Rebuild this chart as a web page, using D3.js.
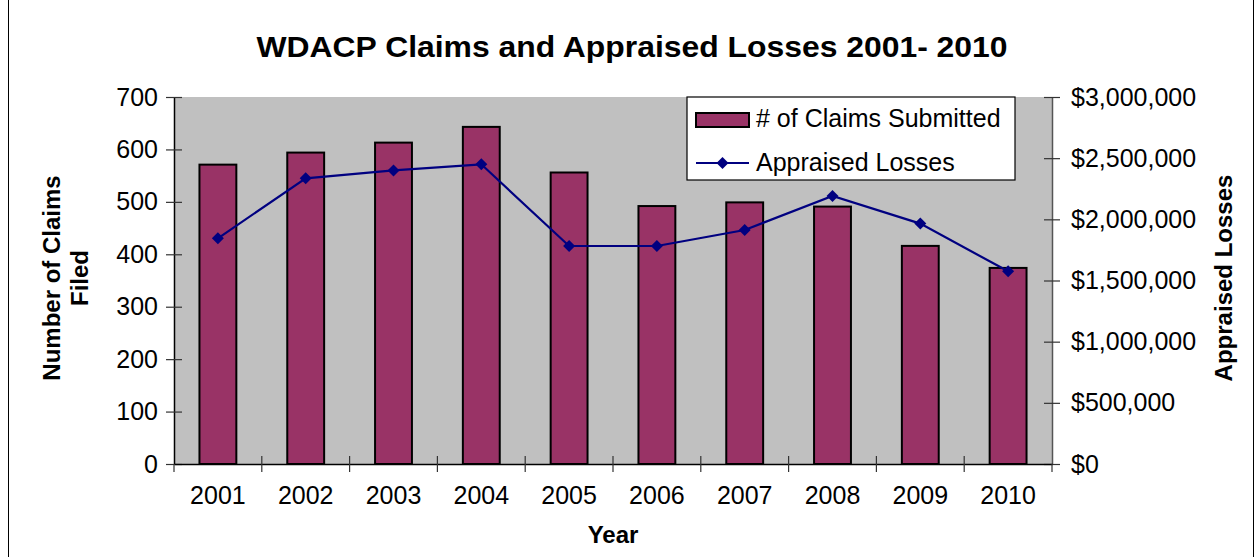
<!DOCTYPE html>
<html>
<head>
<meta charset="utf-8">
<script src="https://cdn.jsdelivr.net/npm/d3@7"></script>
<style>
  html, body { margin: 0; padding: 0; background: #ffffff; }
  svg { display: block; font-family: "Liberation Sans", Arial, sans-serif; }
</style>
</head>
<body>
<svg id="chart" width="1257" height="557"></svg>
<script>
const years = ["2001","2002","2003","2004","2005","2006","2007","2008","2009","2010"];
const claims = [571, 594, 613, 643, 556, 492, 499, 491, 416, 374];
const losses = [1845000, 2335000, 2400000, 2450000, 1782000, 1782000, 1913000, 2191000, 1965000, 1575000];
const leftTicks = [0, 100, 200, 300, 400, 500, 600, 700];
const rightTicks = [0, 500000, 1000000, 1500000, 2000000, 2500000, 3000000];

const svg = d3.select("#chart");
const W = 1257, H = 557;
const plot = { left: 174, right: 1052, top: 97, bottom: 464 };

// outer frame
svg.append("rect").attr("x", 8.5).attr("y", -2).attr("width", 1245).attr("height", H + 4)
  .attr("fill", "#fff").attr("stroke", "#000").attr("stroke-width", 1);

const x = d3.scaleBand().domain(years).range([plot.left, plot.right]).padding(0);
const yL = d3.scaleLinear().domain([0, 700]).range([plot.bottom, plot.top]);
const yR = d3.scaleLinear().domain([0, 3000000]).range([plot.bottom, plot.top]);

// plot background
svg.append("rect").attr("x", plot.left).attr("y", plot.top)
  .attr("width", plot.right - plot.left).attr("height", plot.bottom - plot.top)
  .attr("fill", "#C0C0C0");

// bars
const bw = x.bandwidth() * 0.42;
svg.append("g").selectAll("rect").data(years).join("rect")
  .attr("x", (d) => x(d) + x.bandwidth() / 2 - bw / 2)
  .attr("y", (d, i) => yL(claims[i]))
  .attr("width", bw)
  .attr("height", (d, i) => yL(0) - yL(claims[i]))
  .attr("fill", "#993366").attr("stroke", "#000").attr("stroke-width", 2);

// axes
const axisColor = "#000";
const fs = 25;
// left axis
const gL = svg.append("g").attr("transform", `translate(${plot.left},0)`)
  .call(d3.axisLeft(yL).tickValues(leftTicks).tickSize(0).tickPadding(16));
gL.select(".domain").attr("stroke", axisColor).attr("stroke-width", 1.5);
gL.selectAll(".tick text").attr("font-size", fs).attr("fill", "#000").attr("font-family", "Liberation Sans, Arial, sans-serif");
gL.selectAll(".tick").append("line").attr("x1", -8).attr("x2", 8).attr("stroke", "#333").attr("stroke-width", 1.2);

// right axis
const gR = svg.append("g").attr("transform", `translate(${plot.right},0)`)
  .call(d3.axisRight(yR).tickValues(rightTicks).tickSize(0).tickPadding(19)
    .tickFormat((v) => "$" + d3.format(",")(v)));
gR.select(".domain").attr("stroke", "#555").attr("stroke-width", 1.5);
gR.selectAll(".tick text").attr("font-size", fs).attr("fill", "#000").attr("font-family", "Liberation Sans, Arial, sans-serif");
gR.selectAll(".tick").append("line").attr("x1", -8).attr("x2", 8).attr("stroke", "#333").attr("stroke-width", 1.2);

// bottom axis
const gB = svg.append("g").attr("transform", `translate(0,${plot.bottom})`)
  .call(d3.axisBottom(x).tickSize(0).tickPadding(22));
gB.select(".domain").attr("stroke", axisColor).attr("stroke-width", 1.5);
gB.selectAll(".tick text").attr("font-size", fs).attr("fill", "#000").attr("font-family", "Liberation Sans, Arial, sans-serif");
const bounds = years.map((d) => x(d)).concat([plot.right]);
gB.append("g").selectAll("line").data(bounds).join("line")
  .attr("x1", (d) => d).attr("x2", (d) => d)
  .attr("y1", (d, i) => (i === 0 || i === bounds.length - 1) ? 0 : -8).attr("y2", 8)
  .attr("stroke", "#333").attr("stroke-width", 1.2);

// line series
const line = d3.line().x((d, i) => x(years[i]) + x.bandwidth() / 2).y((d) => yR(d));
svg.append("path").datum(losses).attr("d", line)
  .attr("fill", "none").attr("stroke", "#000080").attr("stroke-width", 2.2);
svg.append("g").selectAll("path").data(losses).join("path")
  .attr("transform", (d, i) => `translate(${x(years[i]) + x.bandwidth() / 2},${yR(d)}) rotate(45)`)
  .attr("d", d3.symbol().type(d3.symbolSquare).size(72))
  .attr("fill", "#000080");

// legend
const lg = svg.append("g");
lg.append("rect").attr("x", 687).attr("y", 97).attr("width", 328).attr("height", 83)
  .attr("fill", "#fff").attr("stroke", "#000").attr("stroke-width", 1.2);
lg.append("rect").attr("x", 696).attr("y", 113).attr("width", 53).attr("height", 14)
  .attr("fill", "#993366").attr("stroke", "#000").attr("stroke-width", 2);
lg.append("text").attr("x", 756).attr("y", 127).attr("font-size", fs).text("# of Claims Submitted");
lg.append("line").attr("x1", 696).attr("x2", 749).attr("y1", 163).attr("y2", 163)
  .attr("stroke", "#000080").attr("stroke-width", 2.2);
lg.append("path").attr("transform", "translate(722.5,163) rotate(45)")
  .attr("d", d3.symbol().type(d3.symbolSquare).size(72)).attr("fill", "#000080");
lg.append("text").attr("x", 756).attr("y", 171).attr("font-size", fs).text("Appraised Losses");

// title
svg.append("text").attr("x", 632).attr("y", 57).attr("text-anchor", "middle")
  .attr("font-size", 30).attr("font-weight", "bold")
  .attr("textLength", 751).attr("lengthAdjust", "spacingAndGlyphs")
  .text("WDACP Claims and Appraised Losses 2001- 2010");

// axis titles
svg.append("text").attr("x", 613).attr("y", 543).attr("text-anchor", "middle")
  .attr("font-size", 24).attr("font-weight", "bold").text("Year");

const lt = svg.append("text").attr("transform", "translate(60,278) rotate(-90)")
  .attr("text-anchor", "middle").attr("font-size", 24).attr("font-weight", "bold");
lt.append("tspan").attr("x", 0).attr("y", 0).text("Number of Claims");
lt.append("tspan").attr("x", 0).attr("y", 28).text("Filed");

svg.append("text").attr("transform", "translate(1232,278) rotate(-90)")
  .attr("text-anchor", "middle").attr("font-size", 24).attr("font-weight", "bold")
  .text("Appraised Losses");
</script>
</body>
</html>
